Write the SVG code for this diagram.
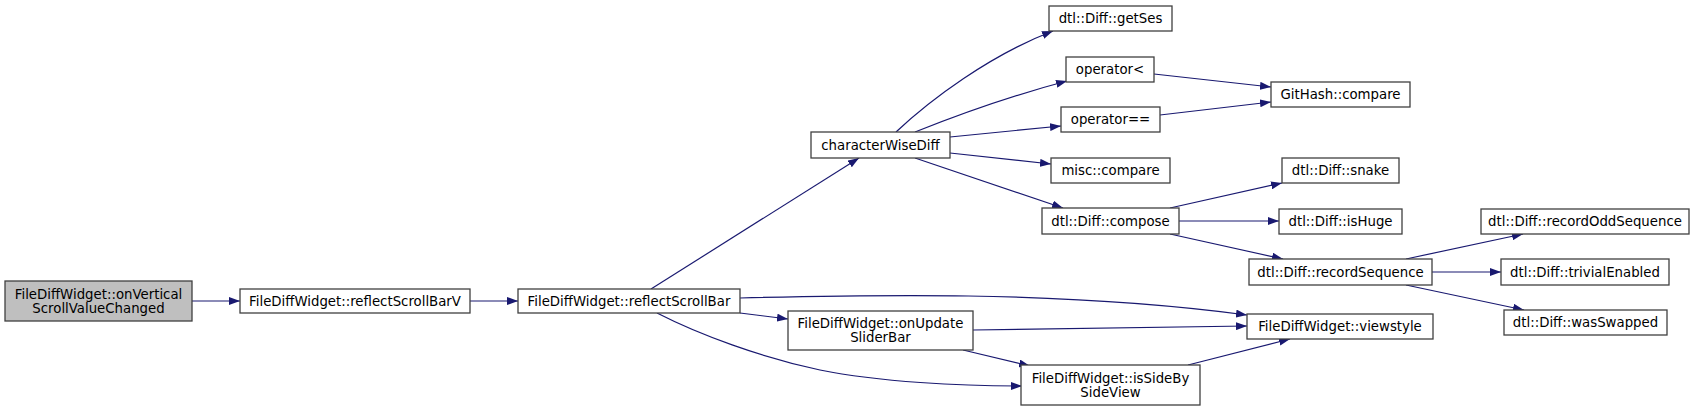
<svg xmlns="http://www.w3.org/2000/svg" width="1695" height="411" viewBox="0 0 1695 411">
<style>
.n rect{fill:#ffffff;stroke:#404040;stroke-width:1.3}
.n.root rect{fill:#bfbfbf}
.n text{font-family:"DejaVu Sans",sans-serif;font-size:13.3px;fill:#000;text-anchor:middle}
.e path{fill:none;stroke:#191970;stroke-width:1.2;marker-end:url(#ah)}
</style>
<defs>
<marker id="ah" markerUnits="userSpaceOnUse" markerWidth="11" markerHeight="8" refX="11" refY="4" orient="auto">
<path d="M0,0 L11,4 L0,8 z" fill="#191970"/>
</marker>
</defs>
<rect width="1695" height="411" fill="#ffffff"/>
<g id="edges" class="e">
<path d="M192,301 L240,301"/>
<path d="M470,301 L518,301"/>
<path d="M651,289 L859,158"/>
<path d="M740,298 C860,295 1060,290 1247,315"/>
<path d="M740,313 L788,319"/>
<path d="M657,313 C700,335 760,357 820,370 C880,382 960,386 1022,386"/>
<path d="M973,330 L1247,326"/>
<path d="M963,350 L1030,366"/>
<path d="M1188,365 L1290,339"/>
<path d="M896,132 C930,100 990,55 1053,31"/>
<path d="M915,132 C960,114 1010,96 1067,81"/>
<path d="M950,137 L1061,126"/>
<path d="M950,153 L1051,164"/>
<path d="M915,158 L1063,208"/>
<path d="M1154,74 L1271,87"/>
<path d="M1160,115 L1271,102"/>
<path d="M1170,208 L1282,183"/>
<path d="M1179,221 L1279,221"/>
<path d="M1170,234 L1283,259"/>
<path d="M1406,259 L1523,234"/>
<path d="M1432,272 L1501,272"/>
<path d="M1406,285 L1524,310"/>
</g>
<g id="n0" class="n root"><rect x="5" y="281" width="187" height="40"/><text x="98.5" y="298.5">FileDiffWidget::onVertical</text><text x="98.5" y="312.5">ScrollValueChanged</text></g>
<g id="n1" class="n"><rect x="240" y="289" width="230" height="24"/><text x="355" y="305.5">FileDiffWidget::reflectScrollBarV</text></g>
<g id="n2" class="n"><rect x="518" y="289" width="222" height="24"/><text x="629" y="305.5">FileDiffWidget::reflectScrollBar</text></g>
<g id="n3" class="n"><rect x="811" y="132" width="139" height="26"/><text x="880.5" y="149.5">characterWiseDiff</text></g>
<g id="n4" class="n"><rect x="1049" y="6" width="123" height="25"/><text x="1110.5" y="23">dtl::Diff::getSes</text></g>
<g id="n5" class="n"><rect x="1066" y="57" width="88" height="25"/><text x="1110" y="74">operator&lt;</text></g>
<g id="n6" class="n"><rect x="1061" y="107" width="99" height="25"/><text x="1110.5" y="124">operator==</text></g>
<g id="n7" class="n"><rect x="1271" y="82" width="139" height="25"/><text x="1340.5" y="99">GitHash::compare</text></g>
<g id="n8" class="n"><rect x="1051" y="158" width="119" height="25"/><text x="1110.5" y="175">misc::compare</text></g>
<g id="n9" class="n"><rect x="1042" y="208" width="137" height="26"/><text x="1110.5" y="225.5">dtl::Diff::compose</text></g>
<g id="n10" class="n"><rect x="1282" y="158" width="117" height="25"/><text x="1340.5" y="175">dtl::Diff::snake</text></g>
<g id="n11" class="n"><rect x="1279" y="209" width="123" height="25"/><text x="1340.5" y="226">dtl::Diff::isHuge</text></g>
<g id="n12" class="n"><rect x="1249" y="259" width="183" height="26"/><text x="1340.5" y="276.5">dtl::Diff::recordSequence</text></g>
<g id="n13" class="n"><rect x="1481" y="209" width="208" height="25"/><text x="1585" y="226">dtl::Diff::recordOddSequence</text></g>
<g id="n14" class="n"><rect x="1501" y="259" width="168" height="26"/><text x="1585" y="276.5">dtl::Diff::trivialEnabled</text></g>
<g id="n15" class="n"><rect x="1504" y="310" width="163" height="25"/><text x="1585.5" y="327">dtl::Diff::wasSwapped</text></g>
<g id="n16" class="n"><rect x="1247" y="314" width="186" height="25"/><text x="1340" y="331">FileDiffWidget::viewstyle</text></g>
<g id="n17" class="n"><rect x="788" y="311" width="185" height="39"/><text x="880.5" y="328">FileDiffWidget::onUpdate</text><text x="880.5" y="342">SliderBar</text></g>
<g id="n18" class="n"><rect x="1021" y="365" width="179" height="40"/><text x="1110.5" y="382.5">FileDiffWidget::isSideBy</text><text x="1110.5" y="396.5">SideView</text></g>
</svg>
